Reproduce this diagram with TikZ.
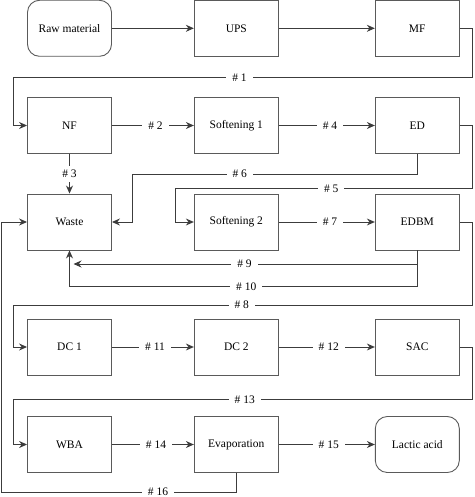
\documentclass[tikz,border=0pt]{standalone}
\usepackage{fontspec}
\setmainfont{Liberation Serif}
\usetikzlibrary{arrows.meta}
\definecolor{linec}{HTML}{3C3C3C}
\definecolor{boxc}{HTML}{5A5A5A}
\begin{document}
\begin{tikzpicture}[x=1pt,y=-1pt,
  box/.style={draw=boxc, line width=0.9pt, minimum width=84pt, minimum height=56pt, inner sep=0pt, font=\fontsize{11.5}{13}\selectfont, text=black},
  term/.style={box, rounded corners=12pt},
  flow/.style={draw=linec, line width=1pt, -{Stealth[length=8pt,width=7pt]}},
  lbl/.style={fill=white, inner xsep=6pt, inner ysep=2pt, font=\fontsize{11.5}{13}\selectfont, text=black}]
\useasboundingbox (0,0) rectangle (474,497);
% nodes
\node[term] (raw)   at (69.5,28.3)  {Raw material};
\node[box]  (ups)   at (236.3,28.3) {UPS};
\node[box]  (mf)    at (417.3,28.3) {MF};
\node[box]  (nf)    at (69.5,125.5) {NF};
\node[box]  (s1)    at (236.3,125.5) {Softening 1};
\node[box]  (ed)    at (417.3,125.5) {ED};
\node[box]  (waste) at (69.5,222)   {Waste};
\node[box]  (s2)    at (236.3,222)  {Softening 2};
\node[box]  (edbm)  at (417.3,222)  {EDBM};
\node[box]  (dc1)   at (69.5,347)   {DC 1};
\node[box]  (dc2)   at (236.3,347)  {DC 2};
\node[box]  (sac)   at (417.3,347)  {SAC};
\node[box]  (wba)   at (69.5,444.5) {WBA};
\node[box]  (evap)  at (236.3,444.5) {Evaporation};
\node[term] (lac)   at (417.3,444.5) {Lactic acid};
% connectors
\draw[flow] (raw) -- (ups);
\draw[flow] (ups) -- (mf);
\draw[flow] (mf.east) -| (472.8,77.7) -| (13.7,125.5) -- (nf.west);
\draw[flow] (nf) -- (s1);
\draw[flow] (s1) -- (ed);
\draw[flow] (nf) -- (waste);
\draw[flow] (ed.south) |- (132.3,174) |- (waste.east);
\draw[flow] (ed.east) -| (472.8,188.7) -| (175,222) -- (s2.west);
\draw[flow] (s2) -- (edbm);
\coordinate (w9) at (73.5,264);
\draw[flow] (edbm.south) |- (w9);
\draw[flow] (edbm.south) |- (69.5,286.7) -- (waste.south);
\draw[flow] (edbm.east) -| (472.8,305) -| (13.7,347) -- (dc1.west);
\draw[flow] (dc1) -- (dc2);
\draw[flow] (dc2) -- (sac);
\draw[flow] (sac.east) -| (472.8,399.3) -| (13.7,444.5) -- (wba.west);
\draw[flow] (wba) -- (evap);
\draw[flow] (evap) -- (lac);
\draw[flow] (evap.south) |- (1,492.7) |- (waste.west);
% labels
\node[lbl] (l1)  at (239.5,77.7)  {\# 1};
\node[lbl] (l2)  at (155.5,125.5) {\# 2};
\node[lbl, inner xsep=2pt, inner ysep=4pt] (l3)  at (69.5,174) {\# 3};
\node[lbl] (l4)  at (330,125.5)   {\# 4};
\node[lbl] (l5)  at (331.2,188.7) {\# 5};
\node[lbl] (l6)  at (239.8,174)   {\# 6};
\node[lbl] (l7)  at (330,222)     {\# 7};
\node[lbl] (l8)  at (241.8,305)   {\# 8};
\node[lbl] (l9)  at (244.5,264)   {\# 9};
\node[lbl] (l10) at (246.3,286.7) {\# 10};
\node[lbl] (l11) at (155,347)     {\# 11};
\node[lbl] (l12) at (328.8,347)   {\# 12};
\node[lbl] (l13) at (244.8,399.3) {\# 13};
\node[lbl] (l14) at (156,444.5)   {\# 14};
\node[lbl] (l15) at (328.8,444.5) {\# 15};
\node[lbl, inner ysep=1pt] (l16) at (158,491.3) {\# 16};
\end{tikzpicture}
\end{document}
